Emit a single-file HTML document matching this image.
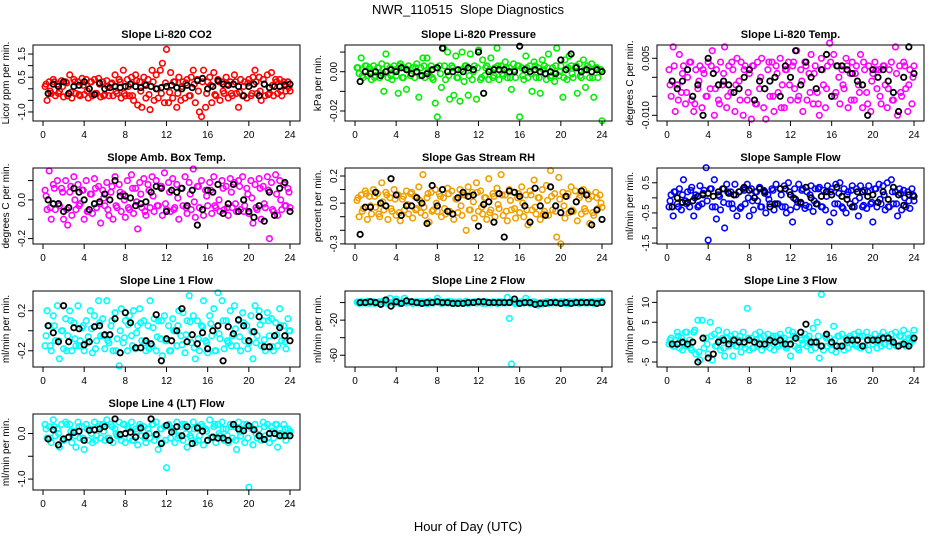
<!DOCTYPE html>
<html><head><meta charset="utf-8"><title>NWR_110515 Slope Diagnostics</title>
<style>
html,body{margin:0;padding:0;background:#fff;}
svg{display:block;font-family:"Liberation Sans",Arial,sans-serif;}
</style></head>
<body>
<svg id="chart" width="936" height="540" viewBox="0 0 936 540" xmlns="http://www.w3.org/2000/svg">
<text x="468" y="14" font-size="13" text-anchor="middle">NWR_110515&#160; Slope Diagnostics</text>
<text x="468" y="531" font-size="13" text-anchor="middle">Hour of Day (UTC)</text>
</svg>
<script>
// ---- data (colored series A every 0.2 h, series B every 0.4 h, black every 0.5 h) ----
const xTicks = [0,4,8,12,16,20,24];
const panelTitles = ["Slope Li-820 CO2","Slope Li-820 Pressure","Slope Li-820 Temp.","Slope Amb. Box Temp.","Slope Gas Stream RH","Slope Sample Flow","Slope Line 1 Flow","Slope Line 2 Flow","Slope Line 3 Flow","Slope Line 4 (LT) Flow"];
const yTitles = ["Licor ppm per min.","kPa per min.","degrees C per min.","degrees C per min.","percent per min.","ml/min per min.","ml/min per min.","ml/min per min.","ml/min per min.","ml/min per min."];
const yTickValues = [[-1,-0.5,0,0.5,1,1.5],[-0.02,-0.01,0,0.01],[-0.01,-0.005,0,0.005],[-0.2,-0.1,0,0.1],[-0.3,-0.2,-0.1,0,0.1,0.2],[-1.5,-1,-0.5,0,0.5],[-0.2,0,0.2],[-60,-40,-20,0],[-5,0,5,10],[-1,-0.5,0]];
const yTickLabels = [["-1.0","","","0.5","","1.5"],["-0.02","","0.00",""],["-0.010","","","0.005"],["-0.2","","0.0",""],["-0.3","","","0.0","","0.2"],["-1.5","","-0.5","","0.5"],["-0.2","","0.2"],["-60","","-20",""],["-5","0","5","10"],["-1.0","","0.0"]];
const yLimits = [[-1.39,1.89],[-0.0251,0.0136],[-0.0115,0.0085],[-0.228,0.165],[-0.301,0.259],[-1.53,0.99],[-0.362,0.397],[-73.4,13.2],[-6.26,12.86],[-1.24,0.428]];

const co2Slope = [0.1,-0.5,0.3,-0.2,0.4,-0.3,0.2,-0.1,0.35,-0.35,0.3,-0.3,0.6,-0.4,0.4,-0.2,0.3,-0.3,0.45,-0.25,0.4,-0.4,0.3,-0.3,0.4,-0.2,0.45,-0.35,0.3,-0.25,0.35,-0.3,0.2,-0.3,0.6,-0.2,0.4,-0.4,0.8,-0.3,0.4,-0.3,0.5,-0.5,0.6,-0.7,0.3,-0.8,0.5,-0.4,0.4,-0.9,0.8,-0.5,0.6,-0.4,0.8,1.1,-0.6,1.7,-0.6,0.7,-0.4,0.3,-0.8,0.5,-0.5,0.3,-0.4,0.4,-0.3,0.5,0.8,-0.6,0.4,-1.0,-1.2,0.8,-0.8,0.3,0.5,-0.6,0.7,-0.3,0.4,-0.5,0.3,-0.2,0.5,-0.4,0.3,-0.3,0.6,-0.2,-0.8,0.4,-0.3,0.3,-0.4,0.4,-0.3,0.5,0.8,-0.2,0.5,-0.5,0.4,-0.3,0.6,-0.2,0.7,-0.3,0.4,-0.2,0.4,-0.3,0.3,-0.1,0.3,-0.1];
const co2SlopeB = [0.2,-0.1,0.3,-0.2,0.1,0.25,-0.15,0.3,-0.25,0.15,-0.1,0.3,-0.2,0.2,-0.3,0.1,0.25,-0.1,0.3,-0.2,0.1,-0.3,0.35,-0.1,0.2,-0.25,0.3,0.0,-0.2,0.25,-0.15,0.3,-0.2,0.1,0.25,-0.3,0.2,-0.1,0.3,-0.2,0.15,-0.25,0.3,-0.1,0.2,-0.2,0.3,-0.15,0.1,0.25,-0.2,0.3,-0.1,0.2,-0.25,0.15,0.3,-0.1,0.2,0.05];
const co2Ref = [-0.2,0.2,0.1,0.3,-0.2,0.1,0.15,0.3,0.0,-0.25,0.25,0.0,0.05,0.1,0.05,0.1,0.2,0.1,0.05,0.15,0.1,0.0,0.05,0.1,0.15,0.05,0.0,0.15,0.05,0.35,0.45,0.0,0.1,0.35,0.2,0.15,0.2,0.1,-0.3,0.1,0.2,-0.3,0.2,0.05,0.1,0.1,0.15,0.2];
const pressureSlope = [0.002,-0.001,0.007,-0.003,0.003,-0.002,0.002,-0.004,0.003,-0.002,0.002,-0.003,0.004,-0.010,0.009,-0.003,0.002,-0.004,0.003,-0.002,-0.011,0.004,-0.003,0.002,-0.009,0.003,-0.002,0.002,-0.003,0.004,-0.013,0.002,0.007,-0.003,0.007,-0.002,0.003,-0.004,-0.016,-0.023,0.003,-0.008,0.012,-0.004,0.010,-0.014,0.003,-0.012,0.008,-0.003,-0.015,0.010,-0.005,0.003,-0.012,0.009,-0.004,0.003,-0.014,0.011,-0.004,0.006,-0.002,0.003,-0.004,0.007,-0.003,0.002,0.012,-0.004,0.003,-0.002,0.005,-0.003,0.002,-0.009,0.004,-0.003,0.003,-0.023,0.002,-0.004,0.008,-0.003,0.003,-0.010,0.005,-0.003,0.002,-0.011,0.006,0.003,-0.004,0.009,-0.003,0.002,-0.005,0.012,-0.002,0.003,-0.013,0.006,-0.004,0.008,0.003,-0.003,0.002,-0.011,0.004,-0.003,0.006,-0.008,0.003,-0.003,0.004,-0.013,0.002,-0.003,0.001,-0.025];
const pressureSlopeB = [0.002,-0.002,0.003,0,-0.003,0.002,-0.001,0.003,-0.002,0.001,0.003,-0.003,0.001,-0.001,0.002,-0.002,0.003,0,-0.003,0.002,-0.001,0.003,-0.002,0.002,-0.003,0.001,0.003,-0.002,0,0.002,-0.003,0.002,0.001,-0.002,0.003,-0.001,0.002,-0.003,0.001,0.003,-0.002,0.002,-0.001,0.003,-0.003,0.001,0.002,-0.002,0.003,0,-0.003,0.002,-0.001,0.003,-0.002,0.001,0.002,-0.003,0.002,0.001];
const pressureRef = [-0.005,0,-0.001,0,-0.002,0,0.001,0,0.002,0.001,-0.001,0,-0.002,-0.001,0.001,0.002,0.012,0,0,0.001,0,0.002,0.001,0.010,-0.011,0,0.001,0.001,0.001,0,0,0.013,0.001,0,0.001,0,-0.001,0,-0.001,0.006,0.001,0.009,0.002,0,0.001,0,0.001,0];
const licorTempSlope = [0.002,-0.005,0.008,-0.009,-0.002,0.006,-0.004,0.003,-0.007,0,0.004,-0.006,-0.009,0.002,-0.003,0.003,-0.008,0.001,-0.005,0.004,-0.003,0.007,-0.010,0.002,-0.006,0.004,-0.002,0.008,-0.008,0.003,-0.004,0.002,-0.009,0.005,-0.001,0.004,-0.010,0.003,-0.006,0.001,-0.011,0.003,-0.007,0.004,-0.003,0.005,-0.008,-0.011,0.002,-0.005,0.004,-0.009,0.003,-0.004,0.005,-0.002,-0.008,0.002,0.004,-0.006,0.003,-0.003,0.007,-0.005,0.002,-0.009,0.004,-0.006,0.001,0.006,-0.007,0.003,-0.004,-0.010,0.005,-0.002,-0.008,0.003,0.009,-0.005,0.006,-0.004,0.003,-0.007,0.002,-0.003,0.005,-0.008,0.001,0.004,-0.006,0.003,-0.002,0.006,-0.008,0.002,-0.004,0.003,-0.009,0.001,0.004,-0.003,0.002,-0.007,0.003,-0.002,-0.008,0.002,0.004,-0.006,0.008,-0.010,0.003,-0.005,0.004,-0.003,-0.009,0.002,-0.007,0.003];
const licorTempSlopeB = [-0.002,0.003,-0.006,0.001,-0.004,0.004,-0.007,-0.001,0.002,-0.005,0.003,-0.003,-0.007,0.001,-0.005,0.004,-0.002,-0.006,0.002,-0.004,0.003,-0.007,0.0,-0.003,0.004,-0.005,0.001,-0.008,0.002,-0.002,0.004,-0.006,-0.001,0.003,-0.004,0.001,-0.007,0.002,-0.003,0.004,-0.005,0.0,-0.002,0.003,-0.006,0.001,-0.004,0.004,-0.007,-0.001,0.002,-0.005,0.003,-0.003,-0.006,0.001,-0.004,0.003,-0.002,0.0];
const licorTempRef = [-0.001,-0.003,-0.001,0.002,-0.005,-0.002,-0.010,0.005,0.001,-0.002,-0.001,-0.002,-0.004,-0.003,0,0.002,-0.006,-0.001,-0.003,-0.001,0,-0.005,0.003,0,0.007,-0.002,0.004,0,-0.003,0.002,0.006,-0.005,0.003,0.003,0.002,0.001,-0.001,-0.002,-0.010,0.002,0,0.002,-0.001,-0.004,-0.009,0,0.008,0.001];
const boxTempSlope = [0.05,-0.05,0.15,-0.1,0.08,-0.05,0.1,-0.03,0.06,-0.1,0.1,-0.13,0.04,-0.08,0.12,-0.05,0.08,-0.02,0.05,-0.1,0.1,-0.06,0.03,-0.07,0.11,-0.04,0.07,-0.12,0.05,-0.03,0.09,-0.08,0.04,-0.1,0.12,-0.04,0.08,-0.06,0.03,-0.09,0.1,-0.05,0.13,-0.07,0.06,-0.15,0.09,-0.04,0.11,-0.08,0.08,-0.04,0.12,-0.06,0.1,-0.03,0.07,-0.08,0.14,-0.05,0.09,-0.06,0.11,-0.04,0.08,-0.1,0.06,-0.03,0.12,-0.07,0.09,-0.05,0.16,-0.09,0.07,-0.04,0.1,-0.08,0.05,-0.03,0.09,-0.07,0.12,-0.04,0.08,-0.06,0.1,-0.05,0.07,-0.08,0.11,-0.04,0.09,-0.06,0.1,-0.05,0.12,-0.03,0.06,-0.07,0.1,-0.12,0.08,-0.05,0.11,-0.1,0.07,-0.04,0.12,-0.2,0.09,-0.06,0.13,-0.08,0.1,-0.05,0.08,-0.03,0.06,-0.04];
const boxTempSlopeB = [0.02,-0.04,0.06,-0.02,0.04,-0.05,0.07,0.0,-0.03,0.05,-0.06,0.03,0.06,-0.02,0.01,-0.05,0.07,-0.03,0.04,0.0,-0.04,0.06,-0.01,0.03,-0.06,0.05,0.02,-0.03,0.07,-0.02,0.04,-0.05,0.01,0.06,-0.04,0.03,-0.01,0.07,-0.05,0.02,0.05,-0.03,0.0,0.06,-0.04,0.04,-0.02,0.07,-0.06,0.03,0.01,-0.04,0.06,-0.02,0.05,-0.05,0.03,0.0,-0.03,0.04];
const boxTempRef = [0,-0.02,-0.02,-0.06,-0.04,0.06,0.04,0,-0.05,-0.02,-0.01,0.03,0,0.1,0.02,0.02,0.01,-0.03,-0.02,-0.01,0.04,0.07,0.06,-0.06,0.05,0.04,0.06,-0.03,0.05,-0.13,-0.05,0.05,0.04,0.08,-0.07,-0.02,0.08,-0.06,0,-0.06,-0.09,-0.03,-0.11,0.04,-0.08,0.06,0.09,-0.06];
const rhSlope = [0.02,-0.1,0.06,-0.04,0.09,-0.12,0.05,-0.08,0.1,-0.03,0.07,-0.1,0.15,-0.05,0.08,-0.12,0.04,-0.06,0.1,-0.09,0.06,-0.13,0.03,-0.05,0.09,-0.08,0.07,-0.11,0.05,-0.04,0.12,-0.07,0.21,-0.09,0.04,-0.14,0.08,-0.05,0.1,-0.06,0.07,-0.1,0.04,-0.08,0.11,-0.06,0.09,-0.12,0.03,-0.07,0.1,-0.09,0.06,-0.2,0.12,-0.05,0.08,-0.11,0.15,-0.06,0.09,-0.08,0.04,-0.12,0.18,-0.05,0.07,-0.1,0.11,-0.04,0.21,-0.09,0.06,-0.13,0.1,-0.05,0.08,-0.11,0.04,-0.07,0.12,-0.1,0.06,-0.16,0.09,-0.05,0.17,-0.08,0.04,-0.12,0.1,-0.06,0.13,-0.09,0.24,-0.05,0.07,-0.25,0.19,-0.3,0.08,-0.11,0.05,-0.07,0.12,-0.06,0.09,-0.13,0.04,-0.08,0.1,-0.06,0.07,-0.15,0.05,-0.09,0.08,-0.04,0.06,-0.03];
const rhSlopeB = [0.04,-0.06,0.07,-0.02,0.05,-0.08,0.01,0.06,-0.04,0.03,-0.07,0.05,-0.01,0.08,-0.05,0.02,-0.03,0.07,-0.06,0.0,0.05,-0.04,0.07,-0.08,0.03,-0.02,0.06,-0.05,0.01,0.08,-0.03,0.04,-0.07,0.05,-0.01,0.06,-0.06,0.02,-0.04,0.07,0.0,-0.05,0.06,-0.03,0.04,-0.08,0.02,0.05,-0.06,0.03,-0.02,0.07,-0.05,0.01,0.06,-0.04,0.03,-0.07,0.04,0.0];
const rhRef = [-0.23,-0.03,-0.03,0.08,0,-0.02,0.18,0.06,-0.09,-0.02,-0.02,0.04,0,-0.15,0.13,-0.02,0.1,-0.06,-0.08,0.04,0.08,0.05,0.06,-0.17,-0.01,0.01,-0.14,0.07,-0.25,0.09,0.08,0.05,-0.02,-0.14,0.11,-0.02,-0.09,0.12,-0.02,-0.07,0.05,-0.06,0.01,0.09,0.06,-0.16,-0.05,-0.12];
const sampleFlowSlope = [-0.3,0.1,-0.6,0.2,-0.2,0.3,-0.4,0.6,-0.1,0.2,-0.3,0.35,-0.6,0.1,-0.3,0.4,-0.2,0.25,1.0,-1.4,0.3,-0.3,0.6,-0.7,0.1,-0.4,0.3,-1.0,0.45,-0.2,0.2,-0.35,0.45,-0.6,0.2,-0.3,0.3,-0.2,0.45,-0.6,0.3,-0.4,0.2,-0.1,0.35,-0.3,0.25,-0.5,0.1,-0.2,0.3,-0.4,0.45,-0.2,0.3,-0.3,0.4,-0.5,0.5,-0.4,-0.8,0.3,-0.3,0.45,-0.2,0.3,-0.35,0.2,-0.3,0.4,-0.45,0.3,-0.2,0.35,-0.3,0.25,-0.4,0.4,-0.8,0.3,-0.5,0.45,-0.2,0.5,-0.3,0.3,-0.5,0.2,-0.2,0.4,-0.3,0.3,-0.6,0.4,-0.3,0.25,-0.35,0.4,-0.2,-0.8,0.3,-0.3,0.45,-0.2,0.4,-0.4,0.5,-0.3,0.6,-0.2,0.2,-0.6,0.3,-0.4,0.25,-0.3,0.2,-0.35,0.3,-0.1];
const sampleFlowSlopeB = [-0.1,0.2,-0.3,0.1,-0.2,0.25,0.0,-0.25,0.15,-0.1,0.3,-0.3,0.05,-0.15,0.2,-0.2,0.1,-0.35,0.25,0.0,-0.1,0.2,-0.3,0.15,-0.05,0.25,-0.2,0.1,-0.3,0.2,0.0,-0.15,0.25,-0.25,0.1,-0.1,0.3,-0.3,0.05,0.2,-0.2,0.15,-0.35,0.1,0.25,-0.1,0.0,-0.25,0.2,-0.15,0.3,-0.05,0.1,-0.3,0.2,-0.2,0.15,0.0,-0.1,0.1];
const sampleFlowRef = [-0.3,0,-0.15,-0.15,-0.1,0.05,0.1,0.15,0.05,0.2,0.3,0.15,0.1,0.2,0.35,0.25,0,0.3,0.2,-0.3,-0.2,0.3,0.3,0.1,-0.05,-0.15,0.35,0,-0.2,0.05,0.2,0.1,0.35,0.05,-0.05,-0.3,0.2,0.2,0.05,0.1,-0.15,0.2,-0.05,0.35,0.1,-0.25,0.1,0.05];
const line1Slope = [-0.15,0.2,0.05,-0.2,0.15,-0.1,0.25,-0.28,0,-0.18,0.12,-0.05,0.2,-0.2,0.08,-0.15,0.25,-0.1,0.03,-0.2,0.1,-0.06,0.2,-0.22,0.15,-0.1,0.3,-0.05,0.12,-0.18,0.3,-0.12,0.05,-0.2,0.18,-0.08,-0.35,0.22,-0.12,0.1,-0.2,0.15,-0.05,0.2,-0.18,0.05,0.22,-0.1,0.1,-0.2,0.05,0.3,-0.15,0.12,-0.2,0.1,-0.08,-0.25,0.15,-0.1,0.05,-0.2,0.12,0,-0.15,0.2,-0.05,0.18,-0.22,0.1,0.35,-0.12,0.15,-0.28,0.1,-0.2,0.05,0.3,-0.1,-0.22,0.15,-0.05,0.22,-0.2,0.38,-0.08,0.3,-0.18,0.1,-0.12,0.2,-0.05,0.25,-0.15,0.1,-0.2,0.18,-0.1,0.05,-0.12,0.15,-0.28,0.25,-0.05,0.2,-0.15,0.1,-0.2,0.18,-0.05,0.12,-0.2,0.08,-0.15,0.22,-0.1,0.05,-0.18,0.12,0];
const line1SlopeB = [-0.05,-0.15,0.05,-0.1,0.0,-0.2,0.1,-0.08,-0.15,0.05,-0.12,0.02,-0.18,0.08,-0.05,-0.1,0.1,-0.2,0.0,-0.07,0.06,-0.15,-0.02,0.08,-0.12,-0.18,0.03,-0.06,0.1,-0.1,-0.2,0.0,0.05,-0.14,-0.04,0.09,-0.17,-0.08,0.04,-0.12,0.07,-0.2,-0.03,0.1,-0.1,-0.15,0.02,-0.06,0.08,-0.18,-0.01,-0.12,0.06,-0.09,0.1,-0.16,-0.04,0.05,-0.11,0.0];
const line1Ref = [0.05,-0.02,-0.11,0.25,-0.11,0.03,0.02,-0.14,-0.11,0.04,0.05,-0.04,-0.04,0.12,-0.22,0.18,0.08,-0.17,-0.17,-0.1,-0.13,0.16,-0.3,-0.08,-0.1,0,0.22,-0.11,-0.04,-0.13,-0.02,-0.18,0,0.05,-0.3,0.04,-0.03,0.11,0.05,-0.1,-0.01,0.14,-0.16,-0.16,-0.05,0.03,-0.05,-0.1];
const line2Slope = [0.5,-1,1,0,-0.5,1.5,-1,0.5,1,-0.5,0,1,-1.5,0.5,1,-1,5,0,-1,4,0.5,-1,1,5,-0.5,1,0,-1,0.5,1,-0.5,0,1,-1,0.5,1.5,0,-0.5,1,5,0,-1,0.5,1,-0.5,0,1,-1,0.5,0,1,-0.5,0,1.5,-1,0.5,0,1,-0.5,1,0,-1,0.5,1,0,-0.5,1,0,-1,0.5,1,0,-0.5,6,-18,-70,1,0,-1,0.5,1,-0.5,5,0,-1,0.5,1,-2,-3,0,-1.5,0.5,1,-1,0,0.5,1,-0.5,0,1,0.5,-1,0,1,0.5,-0.5,1,0,-1,0.5,1,0,-0.5,1,0,-1,0.5,1,0,1.5];
const line2SlopeB = [0.5,-0.5,1,0,-1,0.5,1.5,-0.5,0,1,-1,0.5,0,1,-0.5,1,0,-1,0.5,1,-0.5,0,1.5,-1,0.5,0,1,-0.5,0,0.5,1,-1,0,0.5,1,-0.5,0,1,-1,0.5,0,1,-0.5,0.5,-1.5,0,1,-0.5,0.5,0,1,-1,0.5,0,1,-0.5,0,1,0.5,0];
const line2Ref = [0,0,1,0,-2,3,-4,1,-1,2,1,0,-1,0,0,1,0,0,-1,-1,-1,0,0,1,1,0,0,0,0,0,4,-1,0,0,-2,-1,-1,0,0,-1,0,-1,0,0,0,0,-1,0];
const line3Slope = [-0.5,1,-1,0.5,2.5,-1.5,1,-0.5,2.5,-1,0.5,-2,2.5,-3,5.5,-4.5,5.5,-1.5,1,-3,5,-4.5,2,-1,3,-2,1,-3.5,2.5,-1,1.5,-3.5,2,-1,0.5,-2.5,2.5,-1.5,8.5,-2,1,-1.5,2,-1,2.5,-2,1.5,-1,2,-1.5,1,-2,1.5,-1,2,-0.5,1,-1.5,3,-3.5,2.5,-1,1.5,-2,1,-0.5,2,-1,1.5,-2,3.5,-1.5,5,-4,12,-2,1.5,-1,1,-2,4,-2.5,1.5,-1,2,-2,1,-1.5,1.5,-0.5,2,-1,2.5,-1.5,1.5,-1,2.5,-2,1,-0.5,2,-1.5,1,-1,2.5,-0.5,1.5,-1,2,-0.5,2.5,-1,1.5,-0.5,3,-1,2,-0.5,1,3];
const line3SlopeB = [0.5,-1,1.5,-2,2.5,-1.5,3,-2.5,1,-0.5,1.5,-1,0.5,-1.5,1,0,-1,1.5,-0.5,1,-1.5,0.5,1,-1,0,1.5,-0.5,1,-1,0.5,1.5,-1.5,0.5,1,-0.5,0,1.5,-1,1,-0.5,0.5,1.5,-1,0,1,-0.5,1.5,-1,0.5,1,0,1.5,-0.5,1,0.5,-1,1.5,0,1,0.5];
const line3Ref = [-0.5,-0.5,0,-0.5,0,-5,1,-4,-3,0,0.5,-0.5,0.5,0,0,0.5,0,-0.5,-0.5,0.5,0,0.5,-0.5,-0.5,1,2.5,4.5,0,0,-1,2,0,-1,-1,0.5,0.5,0.5,-1,0.5,0.5,0.5,1,1,0,-1,-0.5,-1,1];
const line4Slope = [0.2,-0.1,0.15,-0.2,0.3,-0.05,0.1,-0.3,0.2,-0.15,0.25,-0.1,0.2,-0.2,0.05,-0.3,0.25,-0.1,0.15,-0.35,0.2,-0.15,0.1,-0.2,0.25,-0.05,0.15,-0.1,0.2,-0.15,0.3,-0.1,0.2,-0.2,0.1,-0.05,0.25,-0.15,0.2,-0.2,0.15,-0.1,0.25,-0.15,0.1,-0.25,0.2,-0.05,0.15,-0.2,0.1,-0.1,0.2,-0.15,0.25,-0.35,0.1,-0.2,0.15,-0.75,0.2,-0.1,0.1,-0.2,0.25,-0.05,0.15,-0.15,0.2,-0.3,0.1,-0.1,0.25,-0.2,0.15,-0.05,0.2,-0.25,0.1,-0.15,0.3,-0.1,0.15,-0.2,0.2,-0.05,0.25,-0.15,0.1,-0.2,0.2,-0.1,0.15,-0.35,0.25,-0.05,0.1,-0.2,0.2,-1.18,0.15,-0.25,0.2,-0.1,0.1,-0.15,0.25,-0.05,0.2,-0.2,0.15,-0.1,0.2,-0.3,0.1,-0.05,0.2,-0.15,0.1,0.05];
const line4SlopeB = [0.1,-0.1,0.15,0.0,-0.15,0.2,0.05,-0.05,0.15,-0.1,0.1,0.0,-0.15,0.2,0.05,-0.1,0.15,0.0,-0.05,0.2,0.1,-0.15,0.05,0.15,-0.1,0.0,0.2,-0.05,0.1,-0.15,0.15,0.05,-0.1,0.2,0.0,-0.05,0.1,-0.15,0.15,0.05,-0.1,0.2,0.0,0.1,-0.05,0.15,-0.15,0.05,0.2,-0.1,0.1,0.0,-0.05,0.15,-0.1,0.05,0.2,0.0,0.1,0.0];
const line4Ref = [-0.12,0.08,-0.25,-0.12,-0.08,0.02,0.05,-0.15,0.07,0.08,0.1,0.15,-0.15,0.32,-0.02,0,0.03,-0.08,0.12,-0.05,0.32,-0.02,-0.22,0.18,0.03,0.15,-0.05,0.15,-0.22,0.12,0.05,-0.15,-0.08,-0.1,-0.1,-0.15,0.2,0.1,0.06,0.17,0.08,-0.05,-0.13,0,0,-0.05,-0.05,-0.05];

const seriesColored = [co2Slope,pressureSlope,licorTempSlope,boxTempSlope,rhSlope,sampleFlowSlope,line1Slope,line2Slope,line3Slope,line4Slope];
const seriesColoredB = [co2SlopeB,pressureSlopeB,licorTempSlopeB,boxTempSlopeB,rhSlopeB,sampleFlowSlopeB,line1SlopeB,line2SlopeB,line3SlopeB,line4SlopeB];
const seriesRef = [co2Ref,pressureRef,licorTempRef,boxTempRef,rhRef,sampleFlowRef,line1Ref,line2Ref,line3Ref,line4Ref];
const seriesColors = ["#ff0000","#00ee00","#ff00ff","#ff00ff","#f0a000","#0000ff","#00ffff","#00ffff","#00ffff","#00ffff"];
const panelKeys = ["co2","pressure","licor-temp","box-temp","rh","sample-flow","line1-flow","line2-flow","line3-flow","line4-flow"];

// ---- drawing ----
const NS = "http://www.w3.org/2000/svg";
const svg = document.getElementById("chart");
function mk(tag, attrs, parent){ const e=document.createElementNS(NS,tag); for(const k in attrs) e.setAttribute(k,attrs[k]); (parent||svg).appendChild(e); return e; }

for(let p=0;p<10;p++){
  const col=p%3, row=Math.floor(p/3);
  const L=33+col*312, R=L+267, T=45+row*123, B=T+76;
  const g=mk("g",{});
  
  
  const [y0,y1]=yLimits[p];
  const xScale=h=>L+10+h*(247/24);
  const yScale=v=>B-(v-y0)/(y1-y0)*(B-T);

  const title=mk("text",{x:(L+R)/2,y:T-7,"font-size":11,"font-weight":"bold","text-anchor":"middle"},g);
  title.textContent=panelTitles[p];
  
  

  const pts=mk("g",{},g);
  
  
  seriesColored[p].forEach((v,i)=>{
    const c=mk("circle",{cx:xScale(0.2*(i+1)),cy:yScale(v),r:2.8,fill:"none",stroke:seriesColors[p],"stroke-width":1.6},pts);
    
    
  });
  seriesColoredB[p].forEach((v,i)=>{
    const c=mk("circle",{cx:xScale(0.3+0.4*i),cy:yScale(v),r:2.8,fill:"none",stroke:seriesColors[p],"stroke-width":1.6},pts);
    
    
  });
  seriesRef[p].forEach((v,i)=>{
    const c=mk("circle",{cx:xScale(0.5+i*0.5),cy:yScale(v),r:2.7,fill:"none",stroke:"#000","stroke-width":1.8},pts);
    
    
  });

  const box=mk("rect",{x:L,y:T,width:R-L,height:B-T,fill:"none",stroke:"#000","stroke-width":1},g);
  
  

  const xa=mk("g",{},g);
  
  
  xTicks.forEach(h=>{
    const x=xScale(h);
    mk("line",{x1:x,x2:x,y1:B,y2:B+5,stroke:"#000"},xa);
    const t=mk("text",{x:x,y:B+17,"font-size":10,"text-anchor":"middle"},xa);
    t.textContent=h;
    
    
  });

  const ya=mk("g",{},g);
  
  
  yTickValues[p].forEach((v,i)=>{
    const y=yScale(v);
    mk("line",{x1:L-5,x2:L,y1:y,y2:y,stroke:"#000"},ya);
    const lab=yTickLabels[p][i];
    if(lab){
      const t=mk("text",{x:0,y:0,"font-size":10,"text-anchor":"middle",transform:`translate(${L-8},${y}) rotate(-90)`},ya);
      t.textContent=lab;
      
      
    }
  });
  const yt=mk("text",{x:0,y:0,"font-size":10,"text-anchor":"middle",transform:`translate(${L-24},${(T+B)/2}) rotate(-90)`},g);
  yt.textContent=yTitles[p];
  
  
}
</script>
</body></html>
